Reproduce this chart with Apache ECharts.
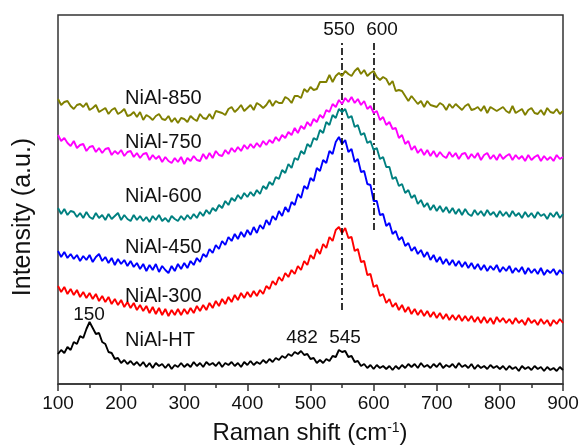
<!DOCTYPE html>
<html>
<head>
<meta charset="utf-8">
<script src="https://cdn.jsdelivr.net/npm/echarts@6/dist/echarts.min.js"></script>
<style>
html,body{margin:0;padding:0;background:#fff;}
#chart{width:582px;height:446px;}
</style>
</head>
<body>
<div id="chart"></div>
<script>
// Raman shift grid (cm-1), sampled every 5 cm-1 from 100 to 900
const shift = [];
for (let w = 100; w <= 900; w += 5) shift.push(w);

const xTicks = [100, 200, 300, 400, 500, 600, 700, 800, 900];
const seriesNames = ['NiAl-HT', 'NiAl-300', 'NiAl-450', 'NiAl-600', 'NiAl-750', 'NiAl-850'];
const seriesColors = ['#000000', '#ff0000', '#0000ff', '#008080', '#ff00ff', '#808000'];
const refLines = [550, 600];
const peakLabels = ['150', '482', '545'];

// Intensities (a.u., stacked offsets as in the figure)
const nial850 = [285,279,282,283,278,275,279,280,277,281,274,276,279,272,274,276,270,274,276,270,
272,275,268,269,272,267,272,264,269,267,264,268,270,265,264,268,262,266,261,266,
265,262,268,265,263,270,266,265,270,265,273,272,271,269,275,277,272,275,279,273,
276,279,274,281,279,276,279,284,278,283,281,281,287,285,281,288,288,286,295,292,
297,294,295,302,302,302,309,302,308,311,308,313,310,308,313,316,310,314,308,311,
313,307,304,307,305,299,303,293,294,293,288,283,288,284,280,283,277,283,279,278,
277,281,279,274,280,276,280,277,274,278,280,274,275,277,273,278,271,277,275,273,
275,277,273,271,278,271,273,275,269,274,276,271,270,274,269,276,272,271,275,270,273];

const nial750 = [249,243,246,241,238,243,236,239,240,233,237,238,232,236,231,235,236,229,233,230,
234,228,232,233,227,231,226,230,231,224,229,225,228,222,227,223,221,226,222,227,
220,226,223,228,224,223,230,225,231,226,233,229,228,234,230,236,232,237,233,239,
235,240,236,241,237,243,239,244,241,247,243,249,246,252,249,256,251,258,255,262,
258,265,262,269,266,274,272,280,277,284,280,286,282,287,281,285,279,283,275,278,
271,273,264,267,259,262,255,256,246,249,240,243,234,238,231,235,229,234,228,233,
227,232,228,226,232,227,231,225,230,231,225,230,226,231,224,229,231,225,229,224,
230,225,228,230,224,229,225,228,223,229,224,227,229,223,228,224,227,223,229,225,227];

const nial600 = [176,170,175,169,173,172,167,171,166,172,167,165,171,166,169,164,170,165,168,171,
164,169,165,163,169,164,168,163,167,162,168,164,169,163,166,162,168,165,163,168,
164,169,165,170,166,172,168,174,170,176,173,179,176,183,179,186,183,189,185,191,
187,192,188,194,190,198,195,202,199,207,205,214,211,220,216,226,224,233,230,240,
237,246,244,254,251,262,259,269,266,275,272,275,266,268,257,259,249,251,241,243,
234,236,225,227,217,217,205,207,198,200,191,194,186,189,180,184,177,181,174,179,
173,178,172,177,171,176,170,175,169,175,170,168,174,169,173,168,174,169,172,167,
173,168,172,167,173,168,171,166,172,167,171,166,172,168,170,165,171,167,172,166,170];

const nial450 = [133,127,132,126,130,125,129,123,128,124,129,122,127,130,123,127,121,126,119,125,
120,124,118,123,117,121,115,120,113,119,114,120,112,118,114,111,118,113,120,115,
121,116,123,119,126,122,130,127,135,131,139,135,143,139,147,143,150,145,152,147,
154,149,157,151,159,155,164,159,168,164,173,168,177,172,182,179,190,186,198,195,
206,203,216,213,224,221,233,230,242,247,240,244,232,235,222,225,212,213,200,199,
183,183,169,170,158,161,150,153,144,147,138,141,133,137,130,134,127,132,124,129,
122,127,120,125,119,124,118,123,117,122,116,121,115,120,114,119,113,118,114,119,
112,117,113,118,111,116,112,117,110,116,111,115,110,116,109,114,111,115,109,114,110];

const nial300 = [98,92,97,90,95,89,94,87,92,86,91,85,90,83,88,82,87,80,85,79,
84,77,82,76,81,74,79,73,78,71,77,70,76,69,75,68,74,69,75,69,
75,70,76,71,78,73,79,74,81,76,83,78,85,80,87,82,89,84,91,86,
92,87,93,88,94,90,98,95,103,99,107,103,111,107,114,110,118,114,123,119,
129,125,135,130,140,136,147,143,154,157,151,156,146,147,133,135,122,123,109,110,
97,99,88,90,81,85,77,81,74,79,72,77,70,75,69,74,68,73,67,72,
66,71,65,70,64,69,64,69,63,68,63,68,62,67,61,67,61,66,60,67,
62,66,61,65,60,66,61,64,59,66,61,64,59,65,60,64,58,64,60,65,61];

const nialHT = [30,34,31,37,34,42,40,48,46,55,62,56,50,51,42,40,32,31,25,26,
21,24,20,23,19,22,18,22,17,21,16,21,18,20,16,20,15,19,17,21,
17,20,17,22,18,21,17,22,19,21,18,22,17,21,19,22,18,21,17,22,
19,23,19,22,20,24,21,25,22,26,24,28,26,30,28,32,30,33,29,30,
25,26,21,24,21,25,23,28,27,34,32,33,27,28,22,23,18,20,16,19,
15,19,16,18,15,18,14,18,15,19,16,20,17,20,16,21,17,19,16,20,
17,21,16,19,17,20,16,21,17,19,16,20,15,19,16,18,15,19,16,18,
15,18,14,18,15,17,13,18,15,17,14,18,15,17,13,17,14,16,13,17,14];

const seriesValues = [nialHT, nial300, nial450, nial600, nial750, nial850];

const FONT = 'Liberation Sans, Arial, Helvetica, sans-serif';

const chart = echarts.init(document.getElementById('chart'), null, {renderer: 'canvas'});

const series = seriesValues.map((vals, i) => ({
  name: seriesNames[i],
  type: 'line',
  data: vals.map((v, k) => [shift[k], v]),
  showSymbol: false,
  symbol: 'none',
  silent: true,
  lineStyle: {color: seriesColors[i], width: 1.9},
  itemStyle: {color: seriesColors[i]},
  z: 2 + i
}));

// reference dash-dot lines at 550 and 600 cm-1
series[0].markLine = {
  silent: true,
  symbol: ['none', 'none'],
  label: {show: false},
  lineStyle: {color: '#000', width: 1.6, type: [7, 3, 2, 3]},
  data: [
    [{coord: [refLines[0], 74]}, {coord: [refLines[0], 341]}],
    [{coord: [refLines[1], 154]}, {coord: [refLines[1], 342]}]
  ]
};

function txt(text, x, y, size, align) {
  return {
    type: 'text', x: x, y: y, silent: true, z: 100,
    style: {
      text: text, fill: '#111', font: size + 'px ' + FONT,
      textAlign: align || 'left', textVerticalAlign: 'middle',
      align: align || 'left', verticalAlign: 'middle'
    }
  };
}

const labelY = [340, 296, 247, 196, 142, 98];
const graphics = seriesNames.map((n, i) => txt(n, 125, labelY[i], 20, 'left'));
graphics.push(txt(String(refLines[0]), 339, 30, 19, 'center'));
graphics.push(txt(String(refLines[1]), 382, 30, 19, 'center'));
graphics.push(txt(peakLabels[0], 89, 315, 19, 'center'));
graphics.push(txt(peakLabels[1], 302, 338, 19, 'center'));
graphics.push(txt(peakLabels[2], 345, 338, 19, 'center'));
// y axis title
graphics.push({
  type: 'text', x: 23, y: 217, rotation: Math.PI / 2, silent: true,
  style: {
    text: 'Intensity (a.u.)', fill: '#111', font: '25px ' + FONT,
    textAlign: 'center', textVerticalAlign: 'middle', align: 'center', verticalAlign: 'middle'
  }
});
// x axis title with superscript
graphics.push({
  type: 'text', x: 310, y: 433, silent: true,
  style: {
    text: 'Raman shift (cm{s|-1})', fill: '#111', font: '24px ' + FONT,
    textAlign: 'center', textVerticalAlign: 'middle', align: 'center', verticalAlign: 'middle',
    rich: {
      s: {fontSize: 14, fontFamily: FONT, fill: '#111', color: '#111', verticalAlign: 'top', lineHeight: 14}
    }
  }
});

chart.setOption({
  animation: false,
  backgroundColor: '#fff',
  grid: {left: 58, right: 19, top: 15, bottom: 62, show: true, borderColor: '#333', borderWidth: 1.5, containLabel: false},
  xAxis: {
    type: 'value', min: xTicks[0], max: xTicks[xTicks.length - 1], interval: 100,
    axisLine: {show: true, lineStyle: {color: '#333', width: 1.5}},
    axisTick: {show: true, inside: false, length: 7, lineStyle: {color: '#333', width: 1.5}},
    minorTick: {show: true, splitNumber: 2, length: 4, lineStyle: {color: '#333', width: 1.5}},
    splitLine: {show: false},
    minorSplitLine: {show: false},
    axisLabel: {fontSize: 19, color: '#111', fontFamily: FONT, margin: 10}
  },
  yAxis: {type: 'value', min: 0, max: 369, show: false, splitLine: {show: false}},
  series: series,
  graphic: graphics
});
</script>
</body>
</html>
